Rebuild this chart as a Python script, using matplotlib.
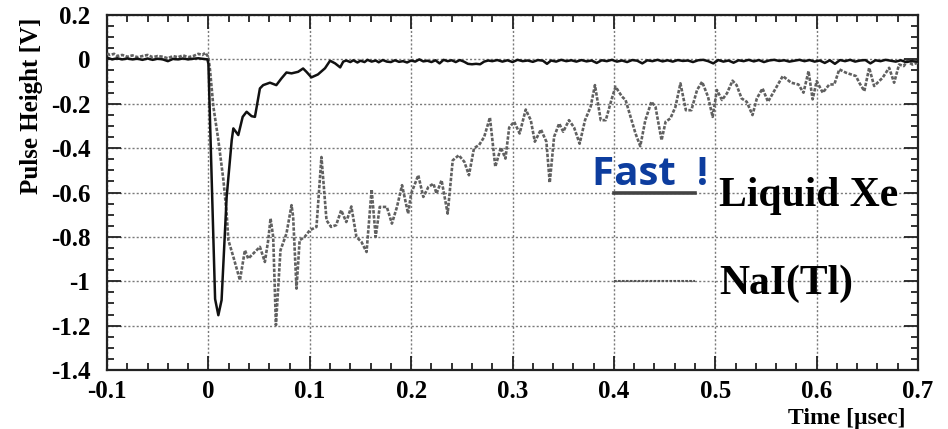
"""Scintillation pulse shapes: liquid xenon vs NaI(Tl)"""

import numpy as np
import matplotlib.pyplot as plt
from matplotlib.ticker import MultipleLocator, FixedLocator

plt.rcParams["axes.unicode_minus"] = False

# liquid Xe trace (time in usec, pulse height in V)
xe_t = [-0.1, -0.095, -0.09, -0.085, -0.08, -0.075, -0.07, -0.065, -0.06, -0.055,
        -0.05, -0.045, -0.04, -0.035, -0.03, -0.025, -0.02, -0.015, -0.01, -0.005,
        -0.001, 0.0, 0.003, 0.0066, 0.0098, 0.013, 0.018, 0.023, 0.0246, 0.0295,
        0.0338, 0.0377, 0.0426, 0.0459, 0.0508, 0.054, 0.0607, 0.067, 0.072, 0.077,
        0.082, 0.0885, 0.0934, 0.0967, 0.1016, 0.108, 0.115, 0.12, 0.125, 0.13,
        0.133, 0.136, 0.14, 0.143, 0.147, 0.15, 0.154, 0.157, 0.161, 0.165,
        0.168, 0.172, 0.176, 0.18, 0.184, 0.188, 0.192, 0.196, 0.2, 0.204,
        0.208, 0.212, 0.216, 0.22, 0.224, 0.228, 0.232, 0.236, 0.24, 0.244,
        0.248, 0.252, 0.256, 0.26, 0.264, 0.268, 0.272, 0.276, 0.28, 0.285,
        0.29, 0.295, 0.3, 0.305, 0.31, 0.315, 0.32, 0.325, 0.33, 0.334,
        0.338, 0.343, 0.348, 0.353, 0.358, 0.363, 0.368, 0.373, 0.378, 0.383,
        0.388, 0.393, 0.398, 0.403, 0.408, 0.413, 0.418, 0.423, 0.428, 0.433,
        0.438, 0.443, 0.448, 0.453, 0.458, 0.463, 0.468, 0.473, 0.478, 0.483,
        0.488, 0.493, 0.498, 0.503, 0.508, 0.513, 0.518, 0.523, 0.528, 0.533,
        0.538, 0.543, 0.548, 0.553, 0.558, 0.563, 0.568, 0.573, 0.578, 0.583,
        0.588, 0.593, 0.598, 0.603, 0.608, 0.613, 0.618, 0.623, 0.628, 0.633,
        0.638, 0.643, 0.648, 0.653, 0.658, 0.663, 0.668, 0.673, 0.678, 0.683,
        0.688, 0.693, 0.7]
xe_v = [0.008, 0.0, 0.005, 0.0, 0.004, 0.0, 0.003, -0.002, 0.004, -0.002,
        0.003, 0.0, -0.008, 0.002, 0.0, 0.004, 0.0, 0.003, 0.005, 0.002,
        0.0, -0.02, -0.5, -1.08, -1.153, -1.085, -0.62, -0.364, -0.311, -0.341,
        -0.259, -0.236, -0.256, -0.259, -0.131, -0.116, -0.105, -0.116, -0.086, -0.059,
        -0.063, -0.056, -0.041, -0.056, -0.081, -0.068, -0.04, -0.006, -0.018, -0.036,
        -0.01, -0.005, -0.012, -0.004, -0.014, -0.006, -0.012, -0.002, -0.01, -0.005,
        -0.013, -0.003, -0.01, -0.012, -0.004, -0.011, -0.008, -0.014, -0.005, -0.01,
        0.0, -0.009, -0.006, -0.012, -0.004, -0.018, -0.002, -0.008, -0.004, -0.012,
        -0.003, -0.01, -0.02, -0.022, -0.02, -0.022, -0.01, -0.005, -0.008, -0.003,
        -0.01, -0.004, -0.012, -0.002, -0.008, -0.005, -0.011, -0.003, -0.006, -0.02,
        -0.005, -0.01, -0.002, -0.008, -0.004, -0.01, -0.003, -0.009, -0.005, -0.016,
        -0.004, -0.008, -0.002, -0.01, -0.005, -0.012, -0.003, -0.006, -0.018, -0.004,
        -0.008, -0.002, -0.009, -0.004, -0.01, -0.003, -0.007, -0.005, -0.012, -0.004,
        -0.002, -0.008, -0.018, -0.003, -0.01, -0.005, -0.015, -0.004, -0.008, -0.002,
        -0.009, -0.003, -0.012, -0.005, -0.002, -0.007, -0.004, -0.01, -0.006, -0.002,
        -0.008, -0.003, -0.01, -0.005, -0.016, -0.004, -0.02, -0.003, -0.008, -0.002,
        -0.01, -0.005, -0.003, -0.018, -0.004, -0.008, -0.002, -0.006, -0.01, -0.004,
        -0.012, -0.008, -0.01]

# NaI(Tl) trace
nai_t = [-0.1, -0.097, -0.093, -0.09, -0.085, -0.08, -0.075, -0.07, -0.065, -0.06,
         -0.055, -0.05, -0.045, -0.04, -0.035, -0.03, -0.025, -0.02, -0.015, -0.01,
         -0.006, -0.003, 0.0, 0.0016, 0.0049, 0.0098, 0.0148, 0.018, 0.0197, 0.0246,
         0.0311, 0.036, 0.0393, 0.0443, 0.0508, 0.0557, 0.059, 0.0613, 0.0639, 0.0666,
         0.0711, 0.077, 0.082, 0.0836, 0.0869, 0.09, 0.095, 0.1, 0.1066, 0.1115,
         0.1165, 0.121, 0.126, 0.131, 0.136, 0.141, 0.146, 0.151, 0.156, 0.161,
         0.165, 0.169, 0.176, 0.181, 0.186, 0.191, 0.197, 0.2, 0.207, 0.212,
         0.217, 0.222, 0.225, 0.23, 0.236, 0.241, 0.247, 0.2525, 0.257, 0.262,
         0.267, 0.272, 0.2777, 0.283, 0.2885, 0.293, 0.2967, 0.3016, 0.307, 0.313,
         0.318, 0.322, 0.328, 0.3334, 0.3367, 0.341, 0.346, 0.35, 0.3557, 0.3607,
         0.3662, 0.3715, 0.377, 0.3813, 0.387, 0.392, 0.3977, 0.4016, 0.408, 0.4115,
         0.4164, 0.4213, 0.426, 0.431, 0.437, 0.441, 0.447, 0.451, 0.4557, 0.4607,
         0.4656, 0.471, 0.4764, 0.482, 0.487, 0.4928, 0.4974, 0.5016, 0.5066, 0.5115,
         0.517, 0.521, 0.526, 0.531, 0.5367, 0.541, 0.5466, 0.552, 0.558, 0.5666,
         0.5748, 0.582, 0.587, 0.592, 0.596, 0.6, 0.606, 0.6125, 0.6174, 0.6223,
         0.6289, 0.6387, 0.642, 0.647, 0.6518, 0.6567, 0.665, 0.6715, 0.6764, 0.6813,
         0.686, 0.689, 0.6944, 0.7]
nai_v = [0.026, 0.02, 0.025, 0.015, 0.02, 0.012, 0.018, 0.01, 0.015, 0.02,
         0.01, 0.015, 0.012, 0.005, 0.015, 0.01, 0.018, 0.01, 0.015, 0.025,
         0.02, 0.03, 0.01, -0.048, -0.213, -0.364, -0.544, -0.695, -0.815, -0.89,
         -0.995, -0.86, -0.898, -0.875, -0.845, -0.913, -0.815, -0.717, -0.8, -1.198,
         -0.86, -0.785, -0.657, -0.71, -1.033, -0.815, -0.8, -0.77, -0.755, -0.44,
         -0.725, -0.755, -0.747, -0.68, -0.733, -0.663, -0.8, -0.823, -0.868, -0.586,
         -0.8, -0.665, -0.665, -0.74, -0.665, -0.567, -0.695, -0.605, -0.522, -0.62,
         -0.575, -0.56, -0.605, -0.545, -0.695, -0.455, -0.432, -0.462, -0.522, -0.4,
         -0.386, -0.35, -0.262, -0.484, -0.397, -0.447, -0.307, -0.281, -0.334, -0.226,
         -0.274, -0.371, -0.316, -0.371, -0.556, -0.349, -0.289, -0.326, -0.274, -0.307,
         -0.38, -0.274, -0.214, -0.116, -0.274, -0.274, -0.18, -0.123, -0.168, -0.183,
         -0.259, -0.334, -0.391, -0.274, -0.191, -0.214, -0.364, -0.281, -0.266, -0.214,
         -0.108, -0.229, -0.229, -0.138, -0.101, -0.168, -0.259, -0.138, -0.183, -0.153,
         -0.096, -0.116, -0.176, -0.191, -0.251, -0.176, -0.131, -0.191, -0.143, -0.075,
         -0.105, -0.113, -0.15, -0.053, -0.18, -0.098, -0.15, -0.113, -0.113, -0.045,
         -0.06, -0.075, -0.105, -0.143, -0.038, -0.12, -0.083, -0.038, -0.105, -0.023,
         -0.03, -0.008, -0.023, -0.015]

x_ticks = [-0.1, 0.0, 0.1, 0.2, 0.3, 0.4, 0.5, 0.6, 0.7]
x_labels = ["-0.1", "0", "0.1", "0.2", "0.3", "0.4", "0.5", "0.6", "0.7"]
y_ticks = [0.2, 0.0, -0.2, -0.4, -0.6, -0.8, -1.0, -1.2, -1.4]
y_labels = ["0.2", "0", "-0.2", "-0.4", "-0.6", "-0.8", "-1", "-1.2", "-1.4"]

serif = "Liberation Serif"
nai_style = (0, (1.3, 0.6))

fig = plt.figure(figsize=(9.48, 4.29), dpi=100)
ax = fig.add_axes([0.1129, 0.1375, 0.8555, 0.8275])

ax.plot(nai_t, nai_v, color="#606060", lw=1.9, linestyle=nai_style, zorder=3)
ax.plot(xe_t, xe_v, color="#111111", lw=1.8, zorder=4)

ax.set_xlim(-0.1, 0.7)
ax.set_ylim(-1.4, 0.2)

ax.xaxis.set_major_locator(FixedLocator(x_ticks))
ax.set_xticklabels(x_labels)
ax.yaxis.set_major_locator(FixedLocator(y_ticks))
ax.set_yticklabels(y_labels)
ax.xaxis.set_minor_locator(MultipleLocator(0.02))
ax.yaxis.set_minor_locator(MultipleLocator(0.05))

ax.tick_params(which="both", direction="in", top=True, right=True, color="#222222", width=1.3)
ax.tick_params(which="major", length=10)
ax.tick_params(which="minor", length=5)
ax.tick_params(axis="x", which="major", pad=7)
ax.tick_params(axis="y", which="major", pad=12)
for lab in ax.get_xticklabels() + ax.get_yticklabels():
    lab.set_fontfamily(serif)
    lab.set_fontweight("bold")
    lab.set_fontsize(18)

for sp in ax.spines.values():
    sp.set_linewidth(1.6)
    sp.set_color("#222222")

ax.grid(True, which="major", color="#7a7a7a", linestyle=(0, (1.5, 1.5)), linewidth=1.0)
ax.set_axisbelow(True)

# hand-drawn legend
ax.plot([0.4, 0.48], [-0.6, -0.6], color="#444444", lw=2.6, zorder=4)
ax.plot([0.4, 0.48], [-1.0, -1.0], color="#555555", lw=1.5, linestyle=nai_style, zorder=4)
ax.text(0.5036, -0.663, "Liquid Xe", fontsize=30, fontweight="bold", family=serif,
        va="baseline", ha="left", zorder=5)
ax.text(0.5036, -1.057, "NaI(Tl)", fontsize=30, fontweight="bold", family=serif,
        va="baseline", ha="left", zorder=5)
ax.text(0.378, -0.566, "Fast  !", fontsize=29, fontweight="bold", family="Open Sans",
        color="#0d3d9e", va="baseline", ha="left", zorder=5)

fig.text(32 / 948, 1 - 18 / 429, "Pulse Height [V]", rotation=90, fontsize=18,
         fontweight="bold", family=serif, ha="center", va="top")
fig.text(905 / 948, 1 - 424 / 429, "Time [µsec]", fontsize=17, fontweight="bold",
         family=serif, ha="right", va="baseline")

fig.savefig("out.png", dpi=100)
